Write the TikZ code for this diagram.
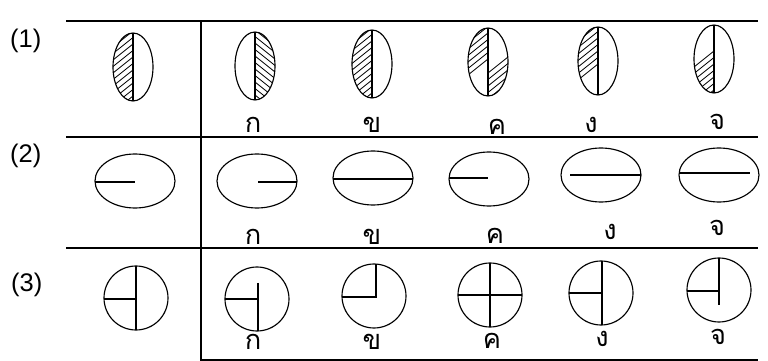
\documentclass[tikz,border=0pt]{standalone}
\usepackage{fontspec}
\setmainfont{Liberation Sans}
\newfontfamily\thaifont[Script=Thai]{Loma}
\newcommand{\halfhatch}[5]{%
  \begin{scope}
    \clip (#1,#2-40) rectangle ({#1+(#3)},#2+40);
    \clip (#1,#2) ellipse [x radius=20, y radius=34];
    \foreach \c in {#5}
      \draw[hatch] (#1-25,{#2+(\c)+(#4)*25}) -- (#1+25,{#2+(\c)-(#4)*25});
  \end{scope}}

\begin{document}
\begin{tikzpicture}[x=0.02cm, y=0.02cm, yscale=-1,
    rule/.style={line width=1.1pt},
    shp/.style={line width=0.65pt},
    hatch/.style={line width=0.45pt},
    choice/.style={font=\thaifont\fontsize{15.5}{17}\selectfont, inner sep=0pt, text height=9pt, text depth=0pt},
    rowno/.style={font=\fontsize{14.5}{16}\selectfont, anchor=west}]
    \useasboundingbox (0,0) rectangle (768,361);

    % table
    \draw[rule] (66,21) -- (758,21);
    \draw[rule] (66,137) -- (758,137);
    \draw[rule] (66,248) -- (758,248);
    \draw[rule] (201,360) -- (758,360);
    \draw[rule] (201,21) -- (201,361);

    \node[rowno] (no1) at (4,41) {(1)};
    \node[rowno] (no2) at (4,156) {(2)};
    \node[rowno] (no3) at (5,285) {(3)};

    % row 1
    \halfhatch{133}{67}{-25}{0.8}{-62,-55.5,...,62}
    \halfhatch{255}{66}{25}{-0.8}{-62,-55.5,...,62}
    \halfhatch{372}{64}{-25}{0.8}{-62,-55.5,...,62}
    \halfhatch{488}{62}{-25}{0.8}{-3,-9.5,...,-62}
    \halfhatch{488}{62}{25}{0.8}{11,17.5,...,62}
    \halfhatch{598}{61}{-25}{0.8}{3,-3.5,...,-62}
    \halfhatch{714}{59}{-25}{0.8}{-8,-1.5,...,62}
    \foreach \x/\y in {133/67, 255/66, 372/64, 488/62, 598/61, 714/59}{
        \draw[shp] (\x,\y) ellipse [x radius=20, y radius=34];
        \draw[shp] (\x,\y-34) -- (\x,\y+34);
    }
    \node[choice] (c1a) at (253,125) {ก};
    \node[choice] (c1b) at (372,125) {ข};
    \node[choice] (c1c) at (497,127) {ค};
    \node[choice] (c1d) at (591,125) {ง};
    \node[choice] (c1e) at (717,122) {จ};

    % row 2
    \foreach \x/\y in {135/181, 257/181, 373/178, 489/179, 601/175, 719/175}
        \draw[shp] (\x,\y) ellipse [x radius=40, y radius=27];
    \draw[shp] (95,182) -- (135,182);
    \draw[shp] (258,182) -- (297,182);
    \draw[shp] (333,179) -- (413,179);
    \draw[shp] (449,178) -- (488,178);
    \draw[shp] (570,175) -- (641,175);
    \draw[shp] (679,173) -- (750,173);
    \node[choice] (c2a) at (253,237) {ก};
    \node[choice] (c2b) at (372,237) {ข};
    \node[choice] (c2c) at (495,236) {ค};
    \node[choice] (c2d) at (610,232) {ง};
    \node[choice] (c2e) at (717,228) {จ};

    % row 3
    \foreach \x/\y in {136/298, 257/299, 374/296, 490/295, 601/293, 719/290}
        \draw[shp] (\x,\y) circle [radius=32];
    \draw[shp] (136,266) -- (136,330) (104,299) -- (136,299);
    \draw[shp] (258,283) -- (258,331) (225,299) -- (258,299);
    \draw[shp] (376,264) -- (376,297) -- (342,297);
    \draw[shp] (490,263) -- (490,327) (458,295) -- (522,295);
    \draw[shp] (602,261) -- (602,325) (569,293) -- (602,293);
    \draw[shp] (719,258) -- (719,305) (687,291) -- (719,291);
    \node[choice] (c3a) at (253,342) {ก};
    \node[choice] (c3b) at (372,342) {ข};
    \node[choice] (c3c) at (492,341) {ค};
    \node[choice] (c3d) at (602,339) {ง};
    \node[choice] (c3e) at (718,337) {จ};
\end{tikzpicture}
\end{document}
